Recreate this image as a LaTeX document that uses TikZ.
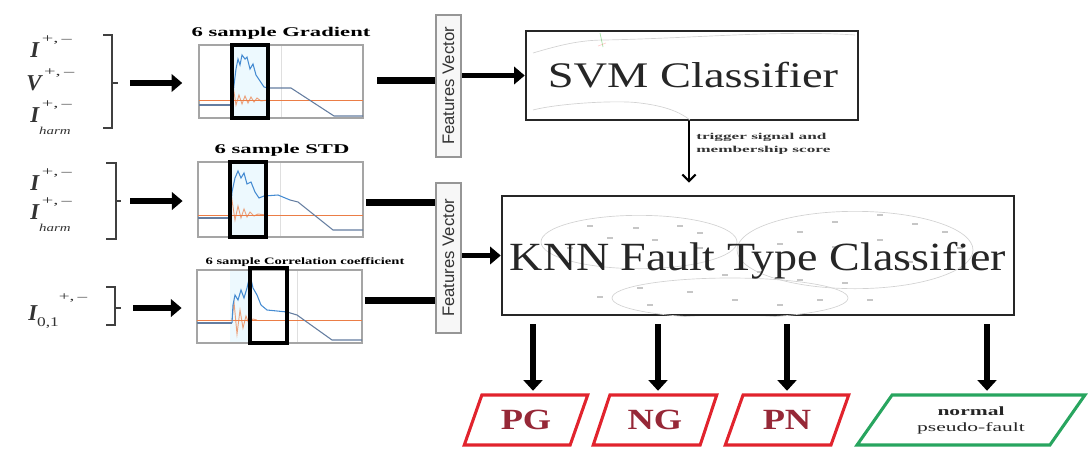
\documentclass[tikz,border=0pt]{standalone}
\usepackage{fontspec}
\setmainfont{Liberation Serif}
\newfontfamily\sansf{Liberation Sans}
\usepackage{graphicx}
\usetikzlibrary{arrows.meta,fit,calc,shapes.geometric}
\definecolor{outred}{RGB}{225,35,45}
\definecolor{outtext}{RGB}{150,40,55}
\definecolor{outgreen}{RGB}{40,165,95}
\definecolor{curveblue}{RGB}{70,140,210}
\definecolor{curveslate}{RGB}{100,125,160}
\definecolor{curveorange}{RGB}{235,125,70}
\definecolor{fvgray}{RGB}{150,150,150}
\definecolor{boxgray}{RGB}{165,165,165}
\newcommand{\sx}[2]{\scalebox{#1}[1]{#2}}
\newcommand{\supPM}{\hspace{2pt}\raisebox{0.62em}{\fontsize{9}{10}\selectfont\upshape\sx{1.7}{+,\,\textendash}}}
\newcommand{\Isup}[1]{{\bfseries\itshape #1}\supPM}
\newcommand{\Iharm}{{\bfseries\itshape I}\rlap{\supPM}\raisebox{-0.55em}{\fontsize{8}{10}\selectfont\itshape\sx{1.4}{harm}}}
\newcommand{\Izero}{{\bfseries\itshape I}\raisebox{-0.3em}{\fontsize{10}{11}\selectfont\sx{1.3}{0,1}}\raisebox{0.85em}{\fontsize{9}{10}\selectfont\sx{1.6}{+,\,\textendash}}}
\begin{document}
\begin{tikzpicture}[x=0.75pt,y=-0.75pt,
  gbox/.style={draw=boxgray, line width=1.1pt, inner sep=0pt},
  winbox/.style={draw=black, line width=2.3pt},
  title/.style={font=\fontsize{10}{12}\selectfont\bfseries, inner sep=0pt},
  lbl/.style={font=\fontsize{17}{20}\selectfont, text=black!80, inner sep=0pt},
  brk/.style={draw=black!75, line width=1.1pt},
  bigarrow/.style={line width=3.8pt, -{Triangle[length=8pt,width=13pt]}},
  outarrow/.style={line width=4.3pt, -{Triangle[length=8pt,width=14pt]}},
  feedline/.style={line width=5.5pt},
  clsbox/.style={draw=black!85, line width=1.9pt, inner sep=0pt},
  fvbox/.style={draw=fvgray, fill=gray!6, line width=1.5pt, inner sep=0pt},
  fvtext/.style={rotate=90, font=\sansf\fontsize{12.5}{14}\selectfont, text=black!80, inner sep=0pt},
  faint/.style={draw=gray!35, line width=0.5pt},
  dot/.style={draw=gray!45, line width=0.8pt},
  outshape/.style={trapezium, trapezium left angle=63, trapezium right angle=117,
     trapezium stretches=true, minimum width=93pt, minimum height=37.5pt,
     draw=outred, line width=2.3pt, inner sep=0pt, text=outtext,
     font=\fontsize{22}{24}\selectfont\bfseries},
  greenshape/.style={trapezium, trapezium left angle=49, trapezium right angle=131,
     trapezium stretches=true, minimum width=171pt, minimum height=37.5pt,
     draw=outgreen, line width=2.3pt, inner sep=0pt, text=black!85, align=center,
     font=\fontsize{9.5}{12}\selectfont},
  blue/.style={draw=curveblue, line width=0.8pt},
  slate/.style={draw=curveslate, line width=0.8pt},
  orange/.style={draw=curveorange, line width=0.6pt},
  osc/.style={draw=curveorange, line width=0.7pt, opacity=0.7}
]
\useasboundingbox (0,0) rectangle (1088,450);

% ---------- left labels ----------
\node[lbl, anchor=base west] (l1) at (30,57) {\Isup{I}};
\node[lbl, anchor=base west] (l2) at (26,90) {\Isup{V}};
\node[lbl, anchor=base west] (l3) at (30,122) {\Iharm};
\node[lbl, anchor=base west] (l4) at (30,190) {\Isup{I}};
\node[lbl, anchor=base west] (l5) at (30,219) {\Iharm};
\node[lbl, anchor=base west] (l6) at (28,320) {\Izero};

% brackets
\draw[brk] (103,35) -- (112,35) -- (112,128) -- (103,128);
\draw[brk] (112,83) -- (118,83) coordinate (b1);
\draw[brk] (106,163) -- (116,163) -- (116,239) -- (106,239);
\draw[brk] (116,201) -- (121,201) coordinate (b2);
\draw[brk] (106,287) -- (115,287) -- (115,325) -- (106,325);
\draw[brk] (115,308) -- (121,308) coordinate (b3);

% ---------- graphs ----------
\node[gbox, fit={(199,45)(363,118)}] (g1) {};
\node[gbox, fit={(198,162)(363,237)}] (g2) {};
\node[gbox, fit={(197,270)(362,343)}] (g3) {};

\node[title] (t1) at (281,33) {\sx{1.7}{6 sample Gradient}};
\node[title] (t2) at (282,150) {\sx{1.7}{6 sample STD}};
\node[title, font=\fontsize{7.3}{9}\selectfont\bfseries] (t3) at (305,262) {\sx{1.5}{6 sample Correlation coefficient}};

% graph 1 curves
\begin{scope}[shift={(199,45)}]
  \fill[cyan!7] (33,1) rectangle (69,72);
  \draw[gray!25, line width=0.4pt] (82,1) -- (82,72);
  \draw[orange] (0,55) -- (164,55);
  \draw[slate] (0,60) -- (33,60);
  \draw[osc] (33,55) -- (35,47) -- (37,60) -- (40,50) -- (43,59) -- (46,51) -- (49,58) -- (52,52) -- (55,57) -- (58,53) -- (62,56) -- (69,55);
  \draw[blue] (33,60) -- (35,40) -- (37,24) -- (39,14) -- (41,20) -- (43,10) -- (46,14) -- (48,12) -- (51,24) -- (54,19) -- (57,30) -- (61,36) -- (65,42) -- (69,43);
  \draw[slate] (69,43) -- (92,43) -- (135,71) -- (164,71);
\end{scope}

% graph 2 curves
\begin{scope}[shift={(198,162)}]
  \fill[cyan!7] (32,1) rectangle (68,74);
  \draw[gray!25, line width=0.4pt] (82,1) -- (82,74);
  \draw[orange] (0,53) -- (165,53);
  \draw[slate] (0,56) -- (32,56);
  \draw[osc] (32,53) -- (34,38) -- (37,58) -- (40,44) -- (43,56) -- (46,47) -- (49,55) -- (52,50) -- (56,54) -- (60,52) -- (68,53);
  \draw[blue] (32,56) -- (34,30) -- (37,16) -- (40,9) -- (43,16) -- (46,11) -- (49,22) -- (53,20) -- (57,30) -- (61,36) -- (66,34) -- (80,33) -- (92,38);
  \draw[slate] (92,38) -- (100,40) -- (135,68) -- (165,68);
\end{scope}

% graph 3 curves
\begin{scope}[shift={(197,270)}]
  \fill[cyan!7] (33,1) rectangle (53,72);
  \draw[gray!25, line width=0.4pt] (100,1) -- (100,72);
  \draw[orange] (0,50) -- (165,50);
  \draw[slate] (0,53) -- (35,53);
  \draw[osc] (35,50) -- (37,32) -- (40,64) -- (43,40) -- (46,58) -- (49,46) -- (52,54) -- (56,49) -- (60,50);
  \draw[blue] (35,53) -- (36,35) -- (38,25) -- (41,30) -- (44,20) -- (47,28) -- (50,18) -- (53,5) -- (56,18) -- (60,25) -- (64,35) -- (70,40) -- (90,42);
  \draw[slate] (90,42) -- (100,45) -- (135,70) -- (165,70);
\end{scope}

% sliding windows
\draw[winbox] (232,45) rectangle (268,118);
\draw[winbox] (230,162) rectangle (266,237);
\draw[winbox] (250,268) rectangle (287,343);

% arrows from brackets to graphs
\draw[bigarrow, shorten <=9pt, shorten >=12pt] (b1) -- (b1 -| g1.west);
\draw[bigarrow, shorten <=7pt, shorten >=11pt] (b2) -- (b2 -| g2.west);
\draw[bigarrow, shorten <=9pt, shorten >=11pt] (b3) -- (b3 -| g3.west);

% ---------- features vectors ----------
\node[fvbox, fit={(436,15)(461,157)}] (fv1) {};
\node[fvtext] (fv1t) at (fv1.center) {Features Vector};
\node[fvbox, fit={(436,183)(461,333)}] (fv2) {};
\node[fvtext] (fv2t) at (fv2.center) {Features Vector};

\coordinate (c1) at ($(g1.east)+(0,-1)$);
\coordinate (c2) at ($(g2.east)+(0,3)$);
\coordinate (c3) at ($(g3.east)+(0,-6)$);
\draw[feedline, shorten <=10pt] (c1) -- (c1 -| fv1.west);
\draw[feedline, shorten <=2pt] (c2) -- (c2 -| fv2.west);
\draw[feedline, shorten <=2pt] (c3) -- (c3 -| fv2.west);

% ---------- classifiers ----------
\node[clsbox, fit={(526,31)(858,120)}] (svm) {};
\draw[faint] (533,53) .. controls (560,45) and (580,40) .. (605,40) .. controls (700,38) and (780,30) .. (855,35);
\draw[faint] (533,110) .. controls (560,103) and (620,100) .. (640,103) .. controls (665,106) and (680,112) .. (690,120);
\draw[draw=green!50!gray, line width=0.5pt, opacity=0.5] (600,33) -- (603,47);
\draw[draw=red!40, line width=0.5pt, opacity=0.5] (598,46) -- (606,43);
\node[font=\fontsize{27}{30}\selectfont, text=black!85, inner sep=0pt] (svmt) at (693,75) {\sx{1.29}{SVM Classifier}};

\node[clsbox, fit={(502,196)(1014,315)}] (knn) {};
\begin{scope}
  \clip (knn.south west) rectangle (knn.north east);
  \draw[faint] (639,242) ellipse (73.5pt and 20pt);
  \draw[faint] (855,250) ellipse (88.5pt and 29pt);
  \draw[faint] (730,298) ellipse (88.5pt and 15pt);
  \foreach \px/\py in {590/226,636/228,680/226,700/233,610/238,655/240,570/248,
     700/248,800/232,835/222,880/215,915/224,945/232,880/240,835/247,780/244,
     960/248,910/262,725/275,760/272,800/280,845/283,640/288,690/292,
     735/300,780/305,650/305,600/297,870/300,820/300}
     \draw[dot] (\px-3,\py) -- (\px+3,\py);
\end{scope}
\node[font=\fontsize{30}{34}\selectfont, text=black!85, inner sep=0pt] (knnt) at (758,261) {\sx{1.15}{KNN Fault Type Classifier}};

\draw[bigarrow] (fv1.east |- svm.west) -- (svm.west);
\draw[bigarrow] (fv2.east |- knn.west) -- (knn.west);

% svm -> knn
\draw[line width=0.9pt, -{Straight Barb[length=5pt,width=10pt,line width=1.6pt]}, shorten >=9pt]
  ($(svm.south)+(-3,0)$) coordinate (s1) -- (s1 |- knn.north);
\node[anchor=west, align=left, font=\fontsize{6.8}{10}\selectfont\bfseries, text=black!80, inner sep=0pt] (trig) at (696,144)
  {\sx{1.9}{trigger signal and}\\\sx{1.9}{membership score}};

% ---------- outputs ----------
\node[outshape] (pg) at (526,420) {\sx{1.24}{PG}};
\node[outshape] (ng) at (655,420) {\sx{1.24}{NG}};
\node[outshape] (pn) at (787,420) {\sx{1.24}{PN}};
\node[greenshape] (nf) at (971,420) {\textbf{\sx{1.7}{normal}}\\\sx{1.7}{pseudo-fault}};

\coordinate (a1) at ($(pg.north)+(7,0)$);
\coordinate (a2) at ($(ng.north)+(3,0)$);
\coordinate (a3) at ($(pn.north)+(0,0)$);
\coordinate (a4) at ($(nf.north)+(16,0)$);
\foreach \a in {a1,a2,a3,a4}
  \draw[outarrow, shorten <=6pt, shorten >=2pt] (\a |- knn.south) -- (\a);
\end{tikzpicture}
\end{document}
